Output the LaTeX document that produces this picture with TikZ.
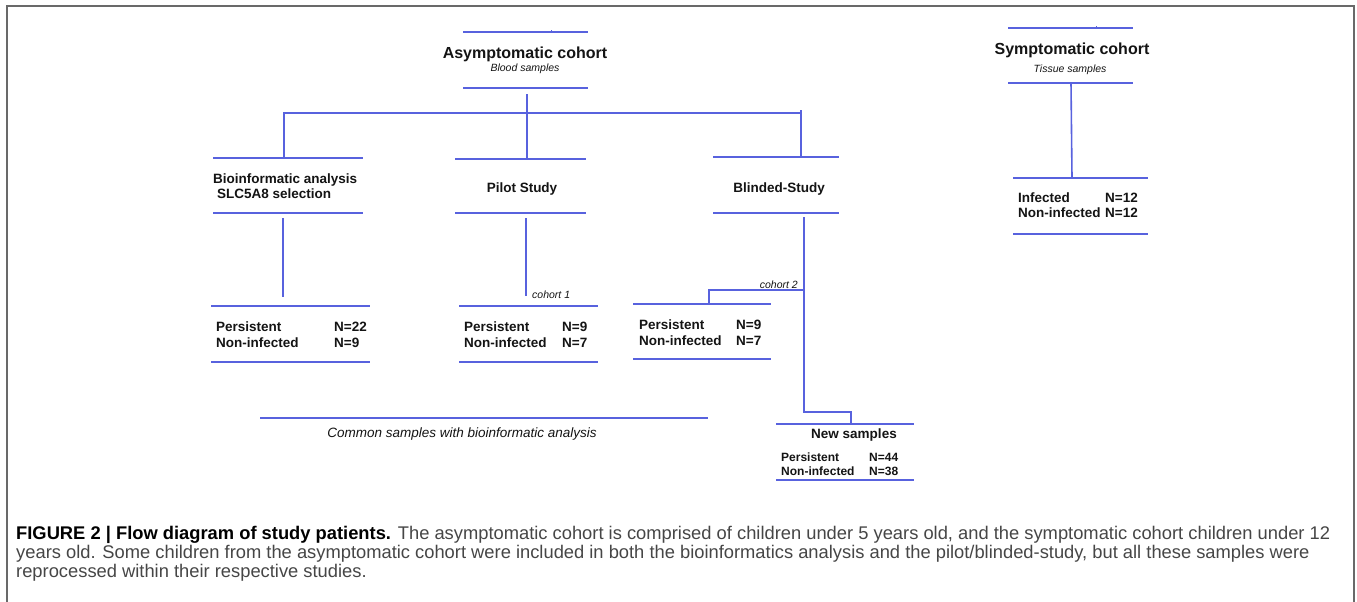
\documentclass[tikz,border=0pt]{standalone}
\usepackage{fontspec}
\setmainfont{Liberation Sans}
\definecolor{lnblue}{RGB}{88,98,222}
\definecolor{tx}{RGB}{20,20,20}
\definecolor{capgray}{RGB}{70,70,70}
\definecolor{frm}{RGB}{105,105,105}
\newlength\capw
\newcommand\captxtA{{\color{black}\bfseries FIGURE 2 | Flow diagram of study patients.} The asymptomatic cohort is comprised of children under 5 years old, and the symptomatic cohort children under 12}
\newcommand\captxtB{years old. Some children from the asymptomatic cohort were included in both the bioinformatics analysis and the pilot/blinded-study, but all these samples were}
\newcommand\captxtC{reprocessed within their respective studies.}
\AtBeginDocument{%
  \settowidth{\capw}{\fontsize{10}{12}\selectfont\captxtA}%
  \pgfmathsetmacro\capfs{10*1314/\capw}%
}
\tikzset{
  bar/.style={draw=lnblue, line width=1.6pt, line join=miter},
  title/.style={inner sep=0, anchor=base, text=tx, font=\fontsize{16}{19}\selectfont\bfseries},
  sub/.style={inner sep=0, anchor=base, text=tx, font=\fontsize{10.5}{12}\selectfont\itshape},
  lab/.style={inner sep=0, anchor=base west, text=tx, font=\fontsize{13.5}{16}\selectfont\bfseries},
  labc/.style={lab, anchor=base},
  smalllab/.style={lab, font=\fontsize{12}{14}\selectfont\bfseries},
  note/.style={inner sep=0, anchor=base west, text=tx, font=\fontsize{10.5}{12}\selectfont\itshape},
  capline/.style={inner sep=0, anchor=base west, text=capgray, font=\fontsize{\capfs}{\capfs}\selectfont},
}
\begin{document}
\begin{tikzpicture}[x=1pt,y=-1pt]
\useasboundingbox (0,0) rectangle (1357,602);
\fill[white] (0,0) rectangle (1357,602);
% frame (open at the bottom)
\draw[frm, line width=1.5pt] (7,603) -- (7,6) -- (1354,6) -- (1354,603);

% ---------- Asymptomatic cohort ----------
\draw[bar] (463,32) -- (588,32);
\draw[draw=lnblue, line width=0.8pt] (551,30.5) -- (551,33.5);
\node[title] (asym) at (525,59) {Asymptomatic cohort};
\node[sub] (blood) at (525,71) {Blood samples};
\draw[bar] (463,88) -- (588,88);

\coordinate (asymOut) at (527,94);
\coordinate (split) at (527,113);
\coordinate (hL) at (284,113);
\coordinate (hR) at (801,113);
\coordinate (bioIn) at (284,158);
\coordinate (pilotIn) at (527,159);
\coordinate (blindIn) at (801,157);
\draw[bar] (asymOut) -- (split);
\draw[bar] (bioIn) -- (hL) -- (hR) -- (blindIn);
\draw[draw=lnblue, line width=1.2pt] (hR) -- ++(0,-3);
\draw[bar] (split) -- (pilotIn);

% ---------- Bioinformatic branch ----------
\draw[bar] (213,158) -- (363,158);
\node[lab] (bio1) at (213,183) {Bioinformatic analysis};
\node[lab] (bio2) at (217,198) {SLC5A8 selection};
\draw[bar] (213,213) -- (363,213);
\coordinate (bioOut) at (283,218);
\coordinate (bioEnd) at (283,297);
\draw[bar] (bioOut) -- (bioEnd);
\draw[bar] (211,306) -- (370,306);
\node[lab] (bioP) at (216,331) {Persistent};
\node[lab] (bioPN) at (334,331) {N=22};
\node[lab] (bioNI) at (216,347) {Non-infected};
\node[lab] (bioNIN) at (334,347) {N=9};
\draw[bar] (211,362) -- (370,362);

% ---------- Pilot branch ----------
\draw[bar] (455,159) -- (586,159);
\node[labc] (pilot) at (522,192) {Pilot Study};
\draw[bar] (455,213) -- (586,213);
\coordinate (pilotOut) at (526,218);
\coordinate (pilotEnd) at (526,296);
\draw[bar] (pilotOut) -- (pilotEnd);
\node[note] (coh1) at (532,298) {cohort 1};
\draw[bar] (459,306) -- (598,306);
\node[lab] (pilP) at (464,331) {Persistent};
\node[lab] (pilPN) at (562,331) {N=9};
\node[lab] (pilNI) at (464,347) {Non-infected};
\node[lab] (pilNIN) at (562,347) {N=7};
\draw[bar] (459,362) -- (598,362);

% ---------- Blinded branch ----------
\draw[bar] (713,157) -- (839,157);
\node[labc] (blind) at (779,192) {Blinded-Study};
\draw[bar] (713,213) -- (839,213);
\coordinate (blindOut) at (804,217);
\coordinate (c2split) at (804,290);
\coordinate (c2corner) at (709,290);
\coordinate (c2In) at (709,304);
\coordinate (newCorner1) at (804,412);
\coordinate (newCorner2) at (851,412);
\coordinate (newIn) at (851,424);
\draw[bar] (blindOut) -- (c2split) -- (newCorner1) -- (newCorner2) -- (newIn);
\draw[bar] (c2split) -- (c2corner) -- (c2In);
\node[note, anchor=base east] (coh2) at (798,288) {cohort 2};
\draw[bar] (633,304) -- (771,304);
\node[lab] (blP) at (639,329) {Persistent};
\node[lab] (blPN) at (736,329) {N=9};
\node[lab] (blNI) at (639,345) {Non-infected};
\node[lab] (blNIN) at (736,345) {N=7};
\draw[bar] (633,359) -- (771,359);

% ---------- Common samples ----------
\draw[bar] (260,418) -- (708,418);
\node[inner sep=0, anchor=base, text=tx, font=\fontsize{13.5}{16}\selectfont\itshape] (common) at (462,437) {Common samples with bioinformatic analysis};

% ---------- New samples ----------
\draw[bar] (776,424) -- (914,424);
\node[labc] (newS) at (854,438) {New samples};
\node[smalllab] (newP) at (781,461) {Persistent};
\node[smalllab] (newPN) at (869,461) {N=44};
\node[smalllab] (newNI) at (781,475) {Non-infected};
\node[smalllab] (newNIN) at (869,475) {N=38};
\draw[bar] (776,480) -- (914,480);

% ---------- Symptomatic cohort ----------
\draw[bar] (1008,28) -- (1133,28);
\draw[draw=lnblue, line width=0.8pt] (1096,26.5) -- (1096,29.5);
\node[title] (sym) at (1072,55) {Symptomatic cohort};
\node[sub] (tissue) at (1070,73) {Tissue samples};
\draw[bar] (1008,83) -- (1133,83);
\coordinate (symOut) at (1071,83);
\coordinate (symIn) at (1072,178);
\draw[bar] (symOut) -- (symIn);
\draw[bar] (1013,178) -- (1148,178);
\node[lab] (infP) at (1018,202) {Infected};
\node[lab] (infPN) at (1105,202) {N=12};
\node[lab] (infNI) at (1018,217) {Non-infected};
\node[lab] (infNIN) at (1105,217) {N=12};
\draw[bar] (1013,234) -- (1148,234);

% ---------- Caption ----------
\node[capline] (capA) at (16,539) {\captxtA};
\node[capline] (capB) at (16,558) {\captxtB};
\node[capline] (capC) at (16,577) {\captxtC};
\end{tikzpicture}
\end{document}
